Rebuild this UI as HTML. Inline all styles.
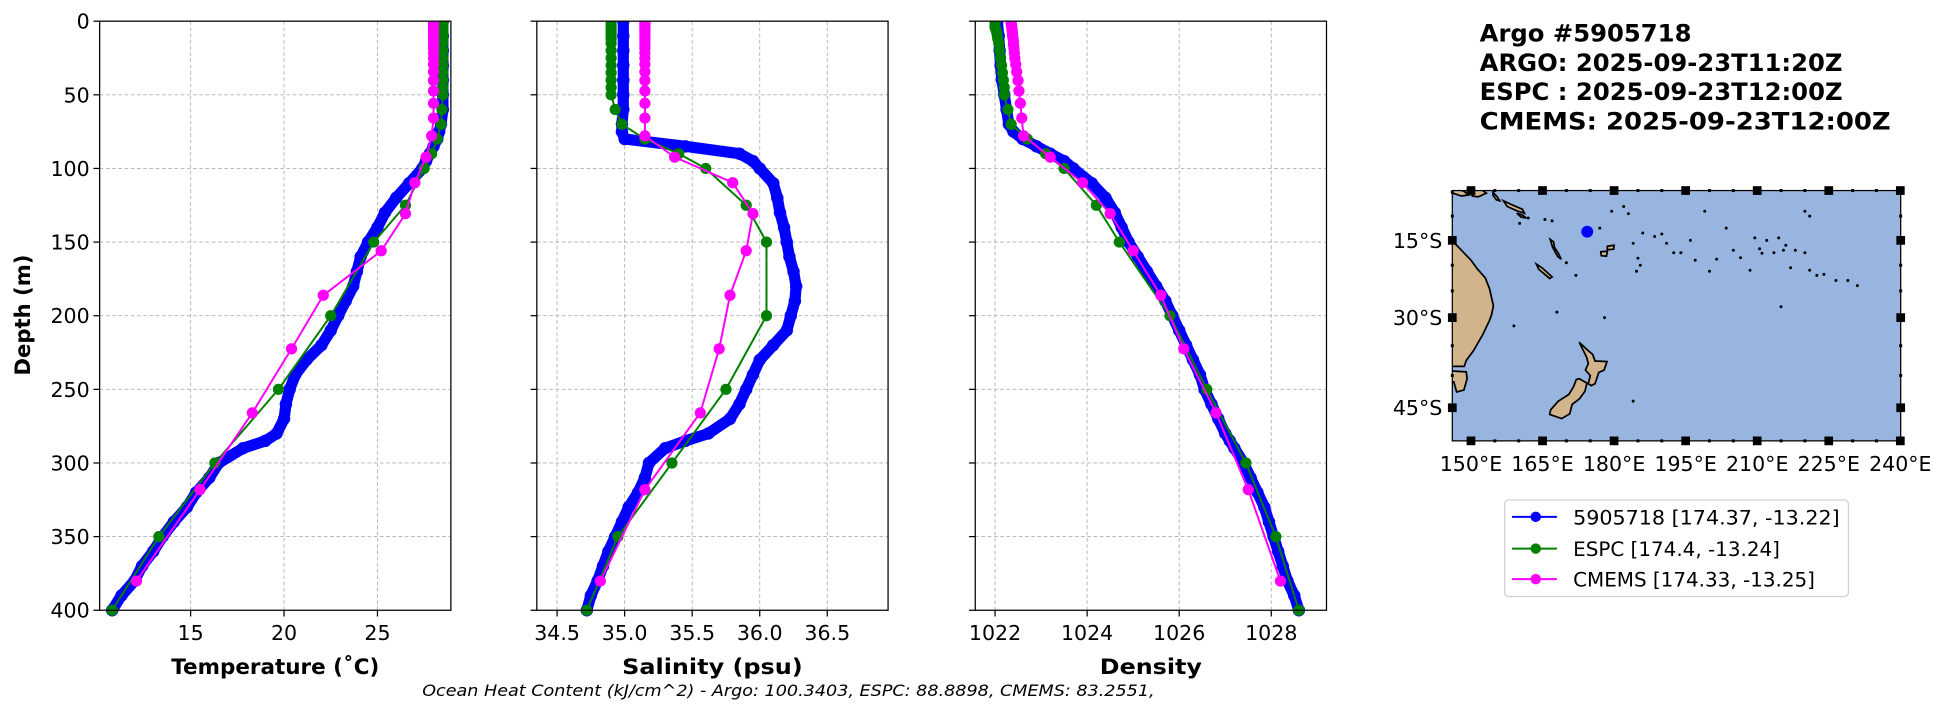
<!DOCTYPE html>
<html><head><meta charset="utf-8"><style>
body{margin:0;background:#fff;}
svg{display:block;font-family:"DejaVu Sans","Liberation Sans",sans-serif;}
</style></head><body>
<svg id="fig" width="1953" height="712" viewBox="0 0 1568 571.7" preserveAspectRatio="none" xmlns="http://www.w3.org/2000/svg">
<g id="panels"></g>
<g id="map"></g>
<text x="1188" y="33.5" font-size="19.5" font-weight="bold">Argo #5905718</text>
<text x="1188" y="57" font-size="19.5" font-weight="bold">ARGO: 2025-09-23T11:20Z</text>
<text x="1188" y="80.3" font-size="19.5" font-weight="bold">ESPC : 2025-09-23T12:00Z</text>
<text x="1188" y="103.8" font-size="19.5" font-weight="bold" textLength="330" lengthAdjust="spacingAndGlyphs">CMEMS: 2025-09-23T12:00Z</text>
<text x="339" y="559" font-size="13" font-style="italic" textLength="588" lengthAdjust="spacingAndGlyphs">Ocean Heat Content (kJ/cm^2) - Argo: 100.3403,  ESPC: 88.8898,  CMEMS: 83.2551,</text>
<text transform="translate(24,253) rotate(-90)" font-size="17" font-weight="bold" text-anchor="middle">Depth (m)</text>
<g>
<rect x="1208" y="401.5" width="276" height="77.5" rx="3" fill="#fff" stroke="#d0d0d0" stroke-width="1"/>
<line x1="1214" y1="415" x2="1250" y2="415" stroke="#0000ff" stroke-width="1.6"/><circle cx="1233" cy="415" r="4.2" fill="#0000ff"/>
<text x="1263" y="421" font-size="16" textLength="214" lengthAdjust="spacingAndGlyphs">5905718 [174.37, -13.22]</text>
<line x1="1214" y1="440.5" x2="1250" y2="440.5" stroke="#008000" stroke-width="1.6"/><circle cx="1233" cy="440.5" r="4.2" fill="#008000"/>
<text x="1263" y="446.5" font-size="16">ESPC [174.4, -13.24]</text>
<line x1="1214" y1="465" x2="1250" y2="465" stroke="#ff00ff" stroke-width="1.6"/><circle cx="1233" cy="465" r="4.2" fill="#ff00ff"/>
<text x="1263" y="471" font-size="16">CMEMS [174.33, -13.25]</text>
</g>
</svg>
<script>
// ---- data ----
const argoDepth=[0,10,20,30,40,50,60,70,75,80,85,90,95,100,110,120,130,140,150,160,170,180,190,200,210,220,230,240,250,260,270,280,285,290,300,310,320,330,340,350,360,370,380,390,400];
const argoTemp=[28.5,28.5,28.5,28.5,28.5,28.5,28.5,28.4,28.3,28.2,28.0,27.8,27.6,27.4,26.7,26.0,25.4,25.0,24.5,24.1,23.9,23.7,23.3,22.9,22.5,22.0,21.2,20.6,20.3,20.1,20.0,19.6,19.0,17.8,16.5,16.0,15.3,14.8,14.1,13.5,13.0,12.4,12.0,11.3,10.8];
const argoSal=[34.99,34.99,34.99,34.99,34.99,34.99,34.99,34.98,34.98,35.0,35.45,35.85,35.95,36.0,36.1,36.13,36.15,36.18,36.2,36.22,36.25,36.27,36.26,36.23,36.2,36.1,36.0,35.95,35.9,35.85,35.78,35.62,35.45,35.3,35.18,35.15,35.1,35.03,34.98,34.93,34.88,34.84,34.8,34.75,34.72];
const argoDens=[1022.05,1022.08,1022.1,1022.12,1022.15,1022.2,1022.25,1022.3,1022.4,1022.6,1022.9,1023.2,1023.5,1023.7,1024.1,1024.4,1024.6,1024.75,1024.9,1025.1,1025.3,1025.5,1025.7,1025.85,1026.0,1026.15,1026.3,1026.45,1026.55,1026.7,1026.85,1027.0,1027.1,1027.2,1027.4,1027.55,1027.7,1027.85,1027.95,1028.05,1028.15,1028.25,1028.35,1028.5,1028.6];
const espcDepth=[0,2,4,6,8,10,12,15,20,25,30,35,40,45,50,60,70,80,90,100,125,150,200,250,300,350,400];
const espcTemp=[28.5,28.5,28.5,28.5,28.5,28.5,28.5,28.5,28.5,28.5,28.5,28.5,28.5,28.5,28.5,28.45,28.4,28.2,27.9,27.5,26.5,24.8,22.5,19.7,16.3,13.3,10.8];
const espcSal=[34.9,34.9,34.9,34.9,34.9,34.9,34.9,34.9,34.9,34.9,34.9,34.9,34.9,34.9,34.9,34.93,34.98,35.15,35.4,35.6,35.9,36.05,36.05,35.75,35.35,34.95,34.72];
const espcDens=[1022.0,1022.0,1022.0,1022.02,1022.04,1022.05,1022.06,1022.08,1022.1,1022.12,1022.14,1022.16,1022.18,1022.2,1022.2,1022.28,1022.35,1022.7,1023.1,1023.5,1024.2,1024.7,1025.8,1026.6,1027.45,1028.1,1028.6];
const cmemsDepth=[0.5,1.5,2.6,3.8,5,6.4,7.9,9.6,11.4,13.5,15.8,18.5,21.6,25.2,29.4,34.4,40.3,47.4,55.8,65.8,77.9,92.3,109.7,130.7,155.9,186.1,222.5,266.0,318.1,380.2];
const cmemsTemp=[28.0,28.0,28.0,28.0,28.0,28.0,28.0,28.0,28.0,28.0,28.0,28.0,28.0,28.0,28.0,28.0,28.0,28.0,28.0,28.0,27.9,27.6,27.0,26.5,25.2,22.1,20.4,18.3,15.5,12.1];
const cmemsSal=[35.15,35.15,35.15,35.15,35.15,35.15,35.15,35.15,35.15,35.15,35.15,35.15,35.15,35.15,35.15,35.15,35.15,35.15,35.15,35.15,35.15,35.37,35.8,35.95,35.9,35.78,35.7,35.56,35.15,34.82];
const cmemsDens=[1022.35,1022.35,1022.36,1022.36,1022.37,1022.37,1022.38,1022.38,1022.39,1022.4,1022.4,1022.41,1022.42,1022.43,1022.45,1022.47,1022.5,1022.52,1022.55,1022.58,1022.62,1023.2,1023.9,1024.5,1025.0,1025.6,1026.1,1026.8,1027.5,1028.2];
const depthTicks=[0,50,100,150,200,250,300,350,400];
const tempTicks=[15,20,25];
const salTicks=[34.5,35.0,35.5,36.0,36.5];
const densTicks=[1022,1024,1026,1028];
const latTicks=[-15,-30,-45];
const lonTicks=[150,165,180,195,210,225,240];
const argoPos=[174.37,-13.22];

const NS='http://www.w3.org/2000/svg';
function mk(tag,attrs,parent){const e=document.createElementNS(NS,tag);for(const k in attrs)e.setAttribute(k,attrs[k]);parent.appendChild(e);return e;}
const Y0=17,Y1=490;
const yScale=d=>Y0+(d/400)*(Y1-Y0);
const panels=document.getElementById('panels');
function panel(name,x0,x1,xmin,xmax,ticks,fmt,label,labW,showY,series){
  const g=mk('g',{},panels);
  
  
  const xs=v=>x0+(v-xmin)/(xmax-xmin)*(x1-x0);
  depthTicks.forEach(d=>{const y=yScale(d);
    mk('line',{x1:x0,x2:x1,y1:y,y2:y,stroke:'#b0b0b0','stroke-width':0.7,'stroke-dasharray':'3,2'},g);
    mk('line',{x1:x0-5,x2:x0,y1:y,y2:y,stroke:'#000','stroke-width':1},g);
    if(showY){const t=mk('text',{x:x0-8,y:y+6,'font-size':16.5,'text-anchor':'end'},g);t.textContent=d;
      
      }
  });
  ticks.forEach(v=>{const x=xs(v);
    mk('line',{x1:x,x2:x,y1:Y0,y2:Y1,stroke:'#b0b0b0','stroke-width':0.7,'stroke-dasharray':'3,2'},g);
    mk('line',{x1:x,x2:x,y1:Y1,y2:Y1+5,stroke:'#000','stroke-width':1},g);
    const t=mk('text',{x:x,y:Y1+24,'font-size':16.5,'text-anchor':'middle'},g);t.textContent=fmt(v);
    
    
  });
  const cp=mk('clipPath',{id:'cp'+name},g);mk('rect',{x:x0-6,y:Y0,width:x1-x0+12,height:Y1-Y0+6},cp);
  const sg=mk('g',{'clip-path':'url(#cp'+name+')'},g);
  series.forEach(s=>{
    const pts=s.d.map((d,i)=>xs(s.v[i]).toFixed(1)+','+yScale(d).toFixed(1)).join(' ');
    if(s.thick){const u=mk('polyline',{points:pts,fill:'none',stroke:s.c,'stroke-width':9,'stroke-linejoin':'round','stroke-linecap':'round'},sg);
      
      }
    const l=mk('polyline',{points:pts,fill:'none',stroke:s.c,'stroke-width':1.6},sg);
    
    
    s.d.forEach((d,i)=>{const c=mk('circle',{cx:xs(s.v[i]),cy:yScale(d),r:s.thick?5:4.5,fill:s.c},sg);
      
      });
  });
  mk('rect',{x:x0,y:Y0,width:x1-x0,height:Y1-Y0,fill:'none',stroke:'#000','stroke-width':1},g);
  const lb=mk('text',{x:(x0+x1)/2-labW/2,y:541,'font-size':17,'font-weight':'bold',textLength:labW,lengthAdjust:'spacingAndGlyphs'},g);lb.textContent=label;
  
  
}
panel('temperature',80,362,10.13,28.93,tempTicks,v=>v,'Temperature (\u02DAC)',167,true,[
 {n:'argo-temp',c:'#0000ff',d:argoDepth,v:argoTemp,thick:true},
 {n:'espc-temp',c:'#008000',d:espcDepth,v:espcTemp},
 {n:'cmems-temp',c:'#ff00ff',d:cmemsDepth,v:cmemsTemp}]);
panel('salinity',431,713,34.35,36.95,salTicks,v=>v.toFixed(1),'Salinity (psu)',145,false,[
 {n:'argo-sal',c:'#0000ff',d:argoDepth,v:argoSal,thick:true},
 {n:'espc-sal',c:'#008000',d:espcDepth,v:espcSal},
 {n:'cmems-sal',c:'#ff00ff',d:cmemsDepth,v:cmemsSal}]);
panel('density',783,1065,1021.57,1029.2,densTicks,v=>v,'Density',82,false,[
 {n:'argo-dens',c:'#0000ff',d:argoDepth,v:argoDens,thick:true},
 {n:'espc-dens',c:'#008000',d:espcDepth,v:espcDens},
 {n:'cmems-dens',c:'#ff00ff',d:cmemsDepth,v:cmemsDens}]);

// ---- map ----
const map=document.getElementById('map');
const MX0=1166,MX1=1526,MY0=153,MY1=354;
const merc=l=>Math.log(Math.tan(Math.PI/4+l*Math.PI/360));
const mx=lon=>1181+(lon-150)*3.83;
const my=lat=>193-(merc(lat)-merc(-15))*218;
const mcp=mk('clipPath',{id:'mapclip'},map);mk('rect',{x:MX0,y:MY0,width:MX1-MX0,height:MY1-MY0},mcp);
mk('rect',{x:MX0,y:MY0,width:MX1-MX0,height:MY1-MY0,fill:'#98b5e0'},map);
const mg=mk('g',{'clip-path':'url(#mapclip)'},map);
const lands={
 'australia':[[140,-15],[146,-15],[148,-17],[150,-19],[151.3,-20.7],[153,-22.5],[153.9,-24.6],[154.7,-27.8],[154.3,-29.5],[153.9,-30.5],[152.5,-33],[150.5,-35.9],[149,-37.5],[148.6,-38.5],[140,-38.5]],
 'tasmania':[[140,-39],[149,-39.4],[149.2,-40.5],[148.5,-42.3],[147,-42.6],[146.4,-41],[140,-41]],
 'new-guinea':[[140,-2],[146,-4],[148.5,-4.8],[149.5,-5.6],[148,-5.8],[146.2,-5.2],[140,-5]],
 'nz-north':[[172.7,-34.4],[174.5,-35.8],[175.5,-36.5],[176,-37.6],[178.5,-37.7],[177.9,-39.1],[176.8,-39.5],[176,-41.3],[175.2,-41.6],[174.6,-41.3],[175,-40],[174,-39.1],[174.6,-38],[174.2,-36.9]],
 'nz-south':[[172.7,-40.5],[174.3,-41.2],[173.9,-42.5],[172.8,-43.6],[171.2,-44.5],[170.7,-45.9],[169,-46.6],[166.5,-46],[166.7,-45.3],[168.3,-44],[170.5,-43],[171.5,-41.8],[172.1,-40.6]],
 'new-britain':[[150,-4.8],[152,-4.3],[153.2,-5.2],[151.5,-6],[150.3,-5.8]],
 'bougainville':[[154.6,-5],[155.5,-6],[156,-6.8],[155.3,-6.6],[154.6,-5.6]],
 'solomons':[[156.8,-6.8],[158.5,-7.6],[160.8,-8.6],[161.2,-9.4],[159.6,-8.9],[157.6,-8]],
 'solomons-2':[[159.6,-9.4],[160.8,-9.8],[161.6,-10.4],[160.5,-10.2]],
 'new-caledonia':[[163.7,-19.8],[165,-20.6],[167,-22.3],[166.5,-22.6],[164.2,-20.8]],
 'vanuatu':[[166.6,-14.8],[167.3,-15.3],[167.5,-16.4],[168.3,-17.6],[168.9,-18.8],[168.2,-18.3],[167.1,-16.4]],
 'fiji':[[177.2,-17.3],[178.6,-17.2],[178.4,-18.2],[177.3,-18.1]],
 'fiji-vanua':[[178.6,-16.2],[180,-16],[179.9,-16.8],[178.6,-16.9]]
};
for(const k in lands){
  const pts=lands[k].map(p=>mx(p[0]).toFixed(1)+','+my(p[1]).toFixed(1)).join(' ');
  const p=mk('polygon',{points:pts,fill:'#d2b48c',stroke:'#000','stroke-width':1.4},mg);
  
  
}
const islets=[[177,-12.5],[179.5,-9],[182,-8],[183,-9.5],[186,-13.5],[188.5,-14.2],[190,-13.7],[184.7,-21.2],[185,-18.6],[185.5,-20],[184,-15.6],[191,-15.6],[192.5,-17.5],[194,-17.5],[200,-21.2],[201.5,-18.8],[203.5,-12.5],[205,-17],[206.5,-18.5],[208.5,-21],[209.5,-14.5],[211,-17.6],[210.5,-16.7],[212,-15],[213.5,-17.5],[214.5,-14.5],[215.5,-17],[216,-16],[217,-20.5],[218,-17],[220,-17.5],[221,-21],[222.5,-22],[224,-21.8],[226.5,-23],[229,-23],[231,-24],[215,-28],[220,-9],[221,-10],[199,-9],[196,-15],[197,-19],[168,-29],[159,-31.5],[178,-30],[184,-44],[181,-52],[167,-11],[165.5,-10.7],[162,-10.4],[160.2,-11.5],[170,-19.5],[172,-22]];
islets.forEach(p=>{const c=mk('circle',{cx:mx(p[0]),cy:my(p[1]),r:1.2,fill:'#000'},mg);
  
  });
const dot=mk('circle',{cx:mx(argoPos[0]),cy:my(argoPos[1]),r:4.8,fill:'#0000ff'},mg);


mk('rect',{x:MX0,y:MY0,width:MX1-MX0,height:MY1-MY0,fill:'none',stroke:'#000','stroke-width':1},map);
for(let l=145;l<=240;l+=5){const x=mx(l);if(x<MX0-1||x>MX1+1)continue;
  mk('rect',{x:x-1.2,y:MY0-1.2,width:2.4,height:2.4,fill:'#000'},map);
  mk('rect',{x:x-1.2,y:MY1-1.2,width:2.4,height:2.4,fill:'#000'},map);}
for(let l=-5;l>=-50;l-=5){const y=my(l);if(y<MY0-1||y>MY1+1)continue;
  mk('rect',{x:MX0-1.2,y:y-1.2,width:2.4,height:2.4,fill:'#000'},map);
  mk('rect',{x:MX1-1.2,y:y-1.2,width:2.4,height:2.4,fill:'#000'},map);}
latTicks.forEach(l=>{const y=my(l);
  mk('rect',{x:MX0-3.5,y:y-3.5,width:7,height:7,fill:'#000'},map);
  mk('rect',{x:MX1-3.5,y:y-3.5,width:7,height:7,fill:'#000'},map);
  const t=mk('text',{x:MX0-8,y:y+6,'font-size':16.5,'text-anchor':'end'},map);t.textContent=(-l)+'\u00B0S';
  
  });
lonTicks.forEach(l=>{const x=mx(l);
  mk('rect',{x:x-3.5,y:MY0-3.5,width:7,height:7,fill:'#000'},map);
  mk('rect',{x:x-3.5,y:MY1-3.5,width:7,height:7,fill:'#000'},map);
  const t=mk('text',{x:x,y:MY1+24,'font-size':16.5,'text-anchor':'middle'},map);t.textContent=l+'\u00B0E';
  
  });
</script>
</body></html>
